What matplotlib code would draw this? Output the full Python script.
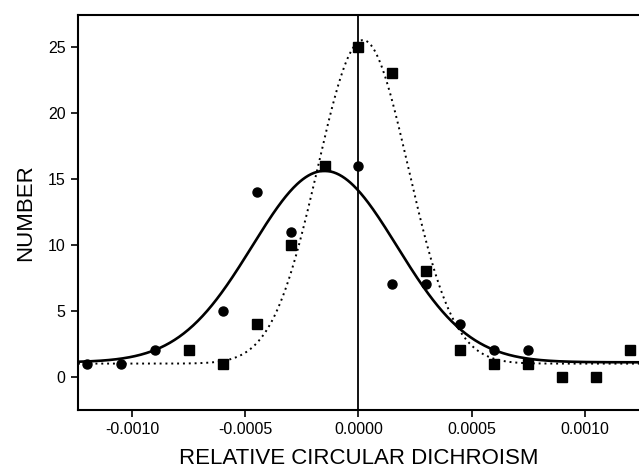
import numpy as np
import matplotlib
matplotlib.use("Agg")
import matplotlib.pyplot as plt

plt.rcParams["font.family"] = ["Liberation Sans", "DejaVu Sans"]

# ───── DATA ─────
circle_x = [-0.0012, -0.00105, -0.0009, -0.0006, -0.00045, -0.0003, -0.00015,
            0.0, 0.00015, 0.0003, 0.00045, 0.0006, 0.00075]
circle_y = [1, 1, 2, 5, 14, 11, 16, 16, 7, 7, 4, 2, 2]

square_x = [-0.00075, -0.0006, -0.00045, -0.0003, -0.00015, 0.0, 0.00015,
            0.0003, 0.00045, 0.0006, 0.00075, 0.0009, 0.00105, 0.0012]
square_y = [2, 1, 4, 10, 16, 25, 23, 8, 2, 1, 1, 0, 0, 2]

# gaussian fits: baseline, amplitude, center, sigma
solid_fit = [1.1, 14.5, -0.00015, 0.00032]
dotted_fit = [1.0, 24.5, 0.00002, 0.0002]

x_ticks = [-0.0010, -0.0005, 0.0000, 0.0005, 0.0010]
x_tick_labels = ["-0.0010", "-0.0005", "0.0000", "0.0005", "0.0010"]
y_ticks = [0, 5, 10, 15, 20, 25]


def gauss(x, p):
    base, amp, mu, sig = p
    return base + amp * np.exp(-(x - mu) ** 2 / (2 * sig ** 2))


# ───── PLOT ─────
fig = plt.figure(figsize=(6.39, 4.70), dpi=100)
ax = fig.add_axes([0.122, 0.128, 0.878, 0.840])

xs = np.linspace(-0.00124, 0.00124, 600)
ax.plot(xs, gauss(xs, solid_fit), color="black", lw=1.9, zorder=3)
ax.plot(xs, gauss(xs, dotted_fit), color="black", lw=1.4, ls=(0, (1, 2.0)), zorder=3)
ax.axvline(0, color="black", lw=1.3, zorder=2)

ax.plot(circle_x, circle_y, "o", color="black", ms=6.5, zorder=4)
ax.plot(square_x, square_y, "s", color="black", ms=7, zorder=4)

ax.set_xlim(-0.00124, 0.00124)
ax.set_ylim(-2.5, 27.4)
ax.set_xticks(x_ticks)
ax.set_xticklabels(x_tick_labels)
ax.set_yticks(y_ticks)
ax.tick_params(direction="out", length=5, width=1.2, labelsize=11.5, pad=4)

for side in ["left", "bottom", "top"]:
    ax.spines[side].set_linewidth(1.5)
ax.spines["right"].set_visible(False)

ax.set_xlabel("RELATIVE CIRCULAR DICHROISM", fontsize=16, labelpad=8)
ax.set_ylabel("NUMBER", fontsize=16, labelpad=8)

plt.savefig("out.png", dpi=100)
